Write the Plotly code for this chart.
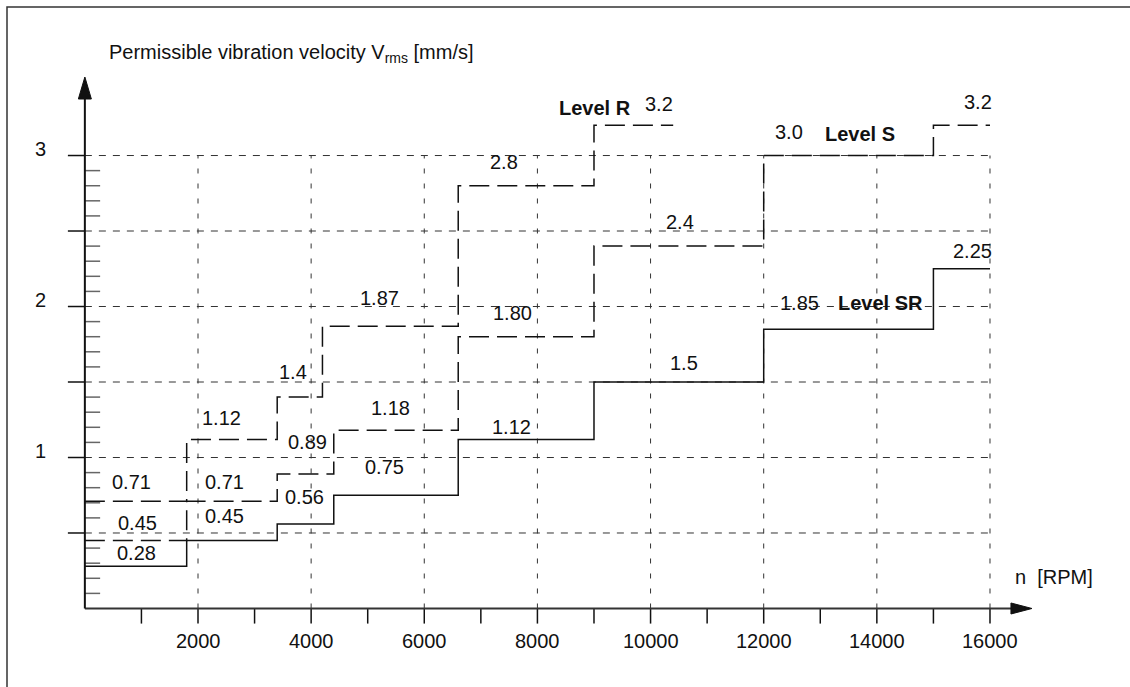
import plotly.graph_objects as go

# Speed breakpoints (rpm) and permissible velocities (mm/s) per balance level
sr_edges = [0, 1800, 3400, 4400, 6600, 9000, 12000, 15000, 16000]
sr_values = ["0.28", "0.45", "0.56", "0.75", "1.12", "1.5", "1.85", "2.25"]

s_edges = [0, 1800, 3400, 4400, 6600, 9000, 12000, 15000, 16000]
s_values = ["0.45", "0.71", "0.89", "1.18", "1.80", "2.4", "3.0", "3.2"]

r_edges = [0, 1800, 3400, 4200, 6600, 9000, 10400]
r_values = ["0.71", "1.12", "1.4", "1.87", "2.8", "3.2"]

x_tick_vals = [2000, 4000, 6000, 8000, 10000, 12000, 14000, 16000]
x_minor_vals = [1000, 3000, 5000, 7000, 9000, 11000, 13000, 15000]
y_tick_vals = [1, 2, 3]
y_grid_vals = [0.5, 1.0, 1.5, 2.0, 2.5, 3.0]

# value-label anchor points (rpm, mm/s) for each step
sr_label_pos = [(906, 0.368), (2477, 0.613), (3891, 0.738), (5288, 0.937),
                (7533, 1.202), (10591, 1.626), (12624, 2.023), (15682, 2.368)]
s_label_pos = [(939, 0.566), (2460, 0.838), (3927, 1.103), (5394, 1.328),
               (7568, 1.960), (10520, 2.560), (12447, 3.156), (15788, 3.354)]
r_label_pos = [(833, 0.838), (2407, 1.262), (3679, 1.566), (5200, 2.056),
               (7409, 2.957), (10149, 3.341)]

FONT = "Liberation Sans, Arial, Helvetica, sans-serif"
INK = "#111111"
GRID = "#333333"
X_RANGE = [-1500, 18475]
Y_RANGE = [-0.52, 4.03]
X_ARROW_TIP = 16742
Y_ARROW_TIP = 3.52

fig = go.Figure()


def step_trace(edges, values, dash, name):
    levels = [float(v) for v in values]
    fig.add_trace(go.Scatter(
        x=edges, y=levels + [levels[-1]], mode="lines", line_shape="hv",
        line=dict(color=INK, width=1.5, dash=dash), name=name,
        showlegend=False, hoverinfo="skip"))


shapes = []
annotations = []

# dashed grid: horizontal lines from the y axis to 16000 rpm
for yv in y_grid_vals:
    shapes.append(dict(type="line", xref="x", yref="y", x0=0, x1=x_tick_vals[-1],
                       y0=yv, y1=yv, line=dict(color=GRID, width=1, dash="7px,7px"),
                       layer="below"))
    # solid stub to the left of the axis
    shapes.append(dict(type="line", xref="x", yref="y", x0=-300, x1=0,
                       y0=yv, y1=yv, line=dict(color=INK, width=1.5)))

# dashed grid: vertical lines from the x axis up to 3.0
for xv in x_tick_vals:
    shapes.append(dict(type="line", xref="x", yref="y", x0=xv, x1=xv,
                       y0=0, y1=y_grid_vals[-1],
                       line=dict(color=GRID, width=1, dash="5px,10px"), layer="below"))

# x ticks below the axis (every 1000 rpm)
for xv in sorted(x_minor_vals + x_tick_vals):
    shapes.append(dict(type="line", xref="x", yref="y", x0=xv, x1=xv,
                       y0=0, y1=-0.1, line=dict(color=INK, width=1.5)))

# y minor ticks every 0.1 inside the axis
for k in range(1, 30):
    if k % 5 == 0:
        continue
    yv = k / 10
    shapes.append(dict(type="line", xref="x", yref="y", x0=0, x1=270,
                       y0=yv, y1=yv, line=dict(color="#666666", width=1.5)))

# axes
shapes.append(dict(type="line", xref="x", yref="y", x0=0, x1=X_ARROW_TIP - 200,
                   y0=0, y1=0, line=dict(color="#333333", width=2)))
shapes.append(dict(type="line", xref="x", yref="y", x0=0, x1=0,
                   y0=0, y1=Y_ARROW_TIP - 0.1, line=dict(color=INK, width=2)))
# arrowheads
shapes.append(dict(type="path", xref="x", yref="y", xsizemode="pixel", ysizemode="pixel",
                   xanchor=X_ARROW_TIP, yanchor=0, path="M0,0 L-21,-5.5 L-21,5.5 Z",
                   fillcolor=INK, line=dict(color=INK, width=1)))
shapes.append(dict(type="path", xref="x", yref="y", xsizemode="pixel", ysizemode="pixel",
                   xanchor=0, yanchor=Y_ARROW_TIP, path="M0,0 L-6.5,-22 L6.5,-22 Z",
                   fillcolor=INK, line=dict(color=INK, width=1)))

# outer frame
shapes.append(dict(type="rect", xref="paper", yref="paper", x0=7 / 1130, x1=1.02,
                   y0=-0.02, y1=1 - 7 / 687, line=dict(color="#333333", width=1.5)))

step_trace(sr_edges, sr_values, "solid", "Level SR")
step_trace(s_edges, s_values, "20px,8px", "Level S")
step_trace(r_edges, r_values, "20px,8px", "Level R")


def text(x, y, s, bold=False, anchor="center", ref="data"):
    annotations.append(dict(
        x=x, y=y, xref="x" if ref == "data" else "paper",
        yref="y" if ref == "data" else "paper",
        text=f"<b>{s}</b>" if bold else s, showarrow=False,
        xanchor=anchor, yanchor="middle",
        font=dict(family=FONT, size=20, color=INK)))


for values, positions in ((sr_values, sr_label_pos), (s_values, s_label_pos),
                          (r_values, r_label_pos)):
    for v, (px, py) in zip(values, positions):
        text(px, py, v)

text(9018, 3.315, "Level R", bold=True)
text(13703, 3.142, "Level S", bold=True)
text(14057, 2.023, "Level SR", bold=True)

for xv in x_tick_vals:
    text(xv, -0.215, str(xv))
for yv in y_tick_vals:
    text(-793, yv + 0.04, str(yv))

text(16407, 0.209, "n  [RPM]", anchor="left")
text(107 / 1130, 1 - 54 / 687, "Permissible vibration velocity V<sub>rms</sub> [mm/s]",
     anchor="left", ref="paper")

fig.update_layout(
    width=1130, height=687,
    margin=dict(l=0, r=0, t=0, b=0),
    paper_bgcolor="white", plot_bgcolor="white",
    xaxis=dict(range=X_RANGE, visible=False, fixedrange=True),
    yaxis=dict(range=Y_RANGE, visible=False, fixedrange=True),
    shapes=shapes, annotations=annotations,
    showlegend=False,
)

fig.write_html("out.html")
